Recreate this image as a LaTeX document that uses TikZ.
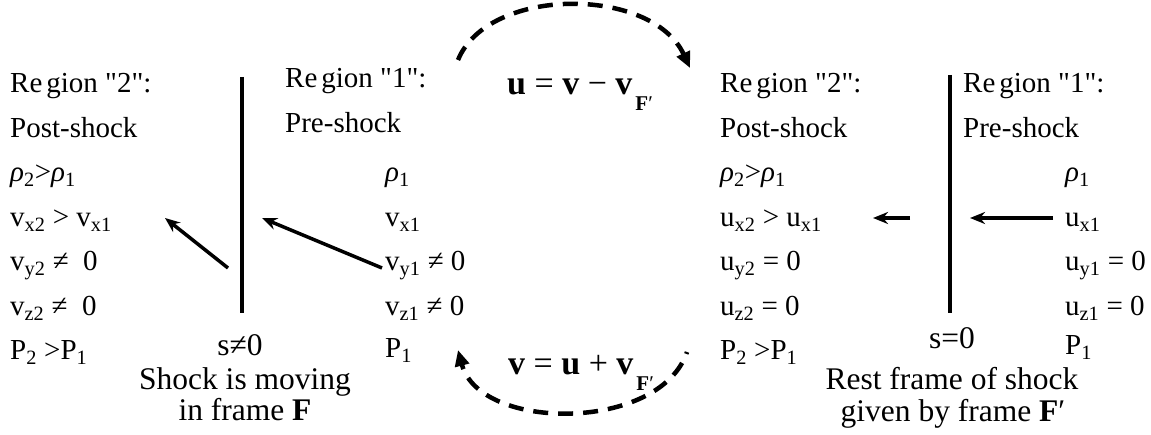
\documentclass[tikz,border=0pt]{standalone}
\usepackage{fontspec}
\setmainfont{Liberation Serif}
\usetikzlibrary{arrows.meta}
\newcommand\sbs[1]{\textsubscript{#1}}
\newcommand\rh{\textit{ρ}}
\newcommand\rgn[1]{Re\hspace{4pt}gion \textquotedbl#1\textquotedbl:}
\newcommand\fsub{\hspace{3pt}\raisebox{-0.45em}{\fontsize{21}{21}\selectfont\textbf{F}′}}
\tikzset{
  >={Stealth[length=15pt,width=12pt]},
  txt/.style={anchor=base west, inner sep=0pt, font=\fontsize{29}{34}\selectfont},
  caption/.style={anchor=base, inner sep=0pt, font=\fontsize{31.5}{36}\selectfont},
  eqn/.style={anchor=base, inner sep=0pt, font=\fontsize{34}{38}\selectfont},
  shock/.style={line width=4pt},
  flow/.style={->, line width=3.5pt},
  xform/.style={-{Triangle[length=16pt,width=14pt]}, line width=4.5pt, dash pattern=on 15pt off 10pt},
}
\begin{document}
\begin{tikzpicture}[x=1pt,y=-1pt]
  \useasboundingbox (0,0) rectangle (1151,435);
  % frame F: shock moving
  \node[txt] (l2a) at (10,93) {\rgn{2}};
  \node[txt] (l2b) at (10,137.5) {Post-shock};
  \node[txt] (l2c) at (10,182) {\rh\sbs{2}>\rh\sbs{1}};
  \node[txt] (l2d) at (10,226.5) {v\sbs{x2} > v\sbs{x1}};
  \node[txt] (l2e) at (10,271) {v\sbs{y2} ≠ \ 0};
  \node[txt] (l2f) at (10,315.5) {v\sbs{z2} ≠ \ 0};
  \node[txt] (l2g) at (10,360) {P\sbs{2} >P\sbs{1}};
  \node[txt] (l1a) at (285,88) {\rgn{1}};
  \node[txt] (l1b) at (285,132.5) {Pre-shock};
  \node[txt] (l1c) at (385,182) {\rh\sbs{1}};
  \node[txt] (l1d) at (385,226.5) {v\sbs{x1}};
  \node[txt] (l1e) at (385,271) {v\sbs{y1} ≠ 0};
  \node[txt] (l1f) at (385,315.5) {v\sbs{z1} ≠ 0};
  \node[txt] (l1g) at (385,358) {P\sbs{1}};
  \draw[shock] (242,77) -- (242,313);
  \coordinate (a1s) at (382,268); \coordinate (a1e) at (262,218);
  \coordinate (a2s) at (228,268); \coordinate (a2e) at (165,218);
  \draw[flow] (a1s) -- (a1e); \draw[flow] (a2s) -- (a2e);
  \node[caption] (sl) at (240,356) {s≠0};
  \node[caption] (movl1) at (245,389) {Shock is moving};
  \node[caption] (movl2) at (245,420) {in frame \textbf{F}};
  % frame F': shock at rest
  \node[txt] (r2a) at (720,93) {\rgn{2}};
  \node[txt] (r2b) at (720,137.5) {Post-shock};
  \node[txt] (r2c) at (720,182) {\rh\sbs{2}>\rh\sbs{1}};
  \node[txt] (r2d) at (720,226.5) {u\sbs{x2} > u\sbs{x1}};
  \node[txt] (r2e) at (720,271) {u\sbs{y2} = 0};
  \node[txt] (r2f) at (720,315.5) {u\sbs{z2} = 0};
  \node[txt] (r2g) at (720,360) {P\sbs{2} >P\sbs{1}};
  \node[txt] (r1a) at (963,93) {\rgn{1}};
  \node[txt] (r1b) at (963,137.5) {Pre-shock};
  \node[txt] (r1c) at (1065,182) {\rh\sbs{1}};
  \node[txt] (r1d) at (1065,226.5) {u\sbs{x1}};
  \node[txt] (r1e) at (1065,271) {u\sbs{y1} = 0};
  \node[txt] (r1f) at (1065,315.5) {u\sbs{z1} = 0};
  \node[txt] (r1g) at (1065,355) {P\sbs{1}};
  \draw[shock] (950,75) -- (950,313);
  \coordinate (b1s) at (1053,218); \coordinate (b1e) at (970,218);
  \coordinate (b2s) at (910,218); \coordinate (b2e) at (873,218);
  \draw[flow] (b1s) -- (b1e); \draw[flow] (b2s) -- (b2e);
  \node[caption] (sr) at (952,349) {s=0};
  \node[caption] (restr1) at (952,389) {Rest frame of shock};
  \node[caption] (restr2) at (953,421) {given by frame \textbf{F}′};
  % transformations
  \node[eqn] (eqt) at (580,95) {\textbf{u} = \textbf{v} − \textbf{v}\fsub};
  \node[eqn] (eqb) at (581,375) {\textbf{v} = \textbf{u} + \textbf{v}\fsub};
  \coordinate (ts) at (458,60); \coordinate (te) at (690,68);
  \coordinate (bs) at (687,352); \coordinate (be) at (458,350);
  \draw[xform] (ts) .. controls (488,-14) and (652,-14) .. (te);
  \draw[xform, dash phase=13pt] (bs) .. controls (660,432) and (480,432) .. (be);
\end{tikzpicture}
\end{document}
